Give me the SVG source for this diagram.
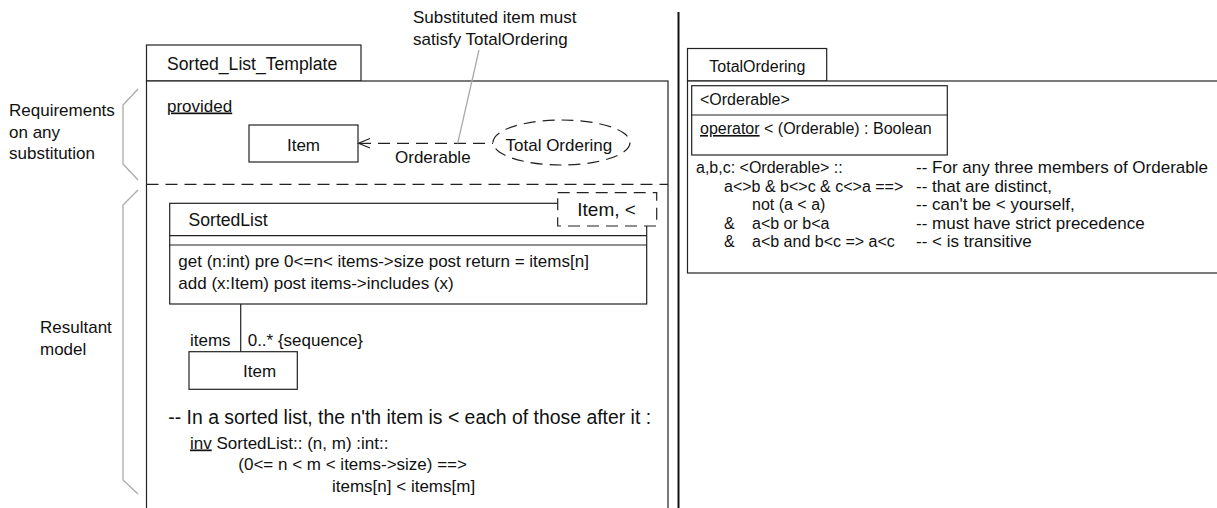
<svg xmlns="http://www.w3.org/2000/svg" width="1217" height="508" viewBox="0 0 1217 508">
<style>
text{font-family:"Liberation Sans",Arial,sans-serif;fill:#111;}
.t17{font-size:17px;}
.t175{font-size:17.6px;}
.t16{font-size:16px;}
.t19{font-size:19px;}
.t194{font-size:19.4px;}
.box{fill:#fff;stroke:#222;stroke-width:1.2;}
.line{fill:none;stroke:#222;stroke-width:1.2;}
.dash{fill:none;stroke:#222;stroke-width:1.2;stroke-dasharray:12 7;}
.gray{fill:none;stroke:#aaa;stroke-width:1.3;}
.u{text-decoration:underline;}
</style>
<rect x="0" y="0" width="1217" height="508" fill="#fff"/>

<g id="divider">
<line x1="678.5" y1="12" x2="678.5" y2="508" stroke="#111" stroke-width="2"/>
</g>

<g id="braces">
<polyline class="gray" points="138,89 123,105 123,164 138,180"/>
<polyline class="gray" points="138,190 123,205 123,480 138,494"/>
<text class="t17" x="9" y="116">Requirements</text>
<text class="t17" x="9" y="137.5">on any</text>
<text class="t17" x="9" y="159">substitution</text>
<text class="t17" x="40" y="333">Resultant</text>
<text class="t17" x="40" y="355">model</text>
</g>

<g id="sorted-list-template">
<rect class="box" x="146.5" y="45" width="214.5" height="36"/>
<text class="t175" x="167" y="70">Sorted_List_Template</text>
<rect class="box" x="146.5" y="81" width="521.5" height="440"/>
<line class="dash" x1="146.5" y1="184.3" x2="668" y2="184.3"/>
<text class="t17" x="167" y="111.5"><tspan class="u">provided</tspan></text>
</g>

<g id="note-substituted">
<text class="t17" x="413" y="23">Substituted item must</text>
<text class="t17" x="413" y="44.5">satisfy TotalOrdering</text>
</g>

<g id="item-provided">
<rect class="box" x="249" y="125" width="109" height="37"/>
<text class="t17" x="303.5" y="150.5" text-anchor="middle">Item</text>
</g>

<g id="total-ordering-use">
<ellipse class="dash" cx="561.5" cy="142.5" rx="68.5" ry="22.5" stroke-dasharray="11 7"/>
<text class="t17" x="505.5" y="150.5">Total Ordering</text>
</g>

<g id="sortedlist">
<rect class="box" x="169.7" y="203.3" width="477" height="100.7"/>
<line class="line" x1="169.7" y1="235.7" x2="646.7" y2="235.7"/>
<line class="line" x1="169.7" y1="245" x2="646.7" y2="245"/>
<text class="t175" x="188.5" y="226">SortedList</text>
<text class="t17" x="178.3" y="267.3">get (n:int) pre 0&lt;=n&lt; items-&gt;size post return = items[n]</text>
<text class="t17" x="178.3" y="289">add (x:Item) post items-&gt;includes (x)</text>
</g>

<g id="template-parameter">
<rect class="box" x="557.7" y="192.7" width="99" height="33.3" stroke-dasharray="12 7"/>
<text class="t19" x="577.3" y="216">Item, &lt;</text>
</g>

<g id="item-result">
<rect class="box" x="189" y="351.7" width="108.3" height="37.6"/>
<text class="t17" x="243" y="377">Item</text>
</g>

<g id="invariant">
<text class="t194" x="168.3" y="424">-- In a sorted list, the n'th item is &lt; each of those after it :</text>
<text class="t17" x="190" y="448.5"><tspan class="u">inv</tspan> SortedList:: (n, m) :int::</text>
<text class="t17" x="238.3" y="470">(0&lt;= n &lt; m &lt; items-&gt;size) ==&gt;</text>
<text class="t17" x="332" y="491.7">items[n] &lt; items[m]</text>
</g>

<g id="connectors">
<line class="dash" x1="359" y1="143.3" x2="493" y2="143.3" stroke-dasharray="10 7"/>
<polyline class="line" points="370,138.5 358.5,143.3 370,148"/>
<text class="t17" x="395" y="163">Orderable</text>
<line class="gray" x1="479" y1="50" x2="457.7" y2="143.3"/>
<line class="line" x1="240.7" y1="304" x2="240.7" y2="351.7"/>
<text class="t17" x="190" y="346">items</text>
<text class="t17" x="247.7" y="346">0..* {sequence}</text>
</g>

<g id="total-ordering-package">
<rect class="box" x="687.5" y="48.5" width="139.2" height="32.5"/>
<text class="t16" x="709.3" y="71.7">TotalOrdering</text>
<rect class="box" x="687.5" y="81" width="545" height="192"/>
</g>

<g id="orderable-class">
<rect class="box" x="691.7" y="85.7" width="255.6" height="69.3"/>
<line class="line" x1="691.7" y1="115" x2="947.3" y2="115"/>
<text class="t16" x="700" y="105">&lt;Orderable&gt;</text>
<text class="t16" x="700" y="134"><tspan class="u">operator</tspan> &lt; (Orderable) : Boolean</text>
</g>

<g id="ordering-rules">
<text class="t16" x="696" y="173">a,b,c: &lt;Orderable&gt; ::</text>
<text class="t16" x="724" y="191.5">a&lt;&gt;b &amp; b&lt;&gt;c &amp; c&lt;&gt;a ==&gt;</text>
<text class="t16" x="752" y="210">not (a &lt; a)</text>
<text class="t16" x="724" y="228.5">&amp;</text>
<text class="t16" x="752" y="228.5">a&lt;b or b&lt;a</text>
<text class="t16" x="724" y="247">&amp;</text>
<text class="t16" x="752" y="247">a&lt;b and b&lt;c =&gt; a&lt;c</text>
<text class="t17" x="916" y="173">-- For any three members of Orderable</text>
<text class="t17" x="916" y="191.5">-- that are distinct,</text>
<text class="t17" x="916" y="210">-- can't be &lt; yourself,</text>
<text class="t17" x="916" y="228.5">-- must have strict precedence</text>
<text class="t17" x="916" y="247">-- &lt; is transitive</text>
</g>
</svg>
